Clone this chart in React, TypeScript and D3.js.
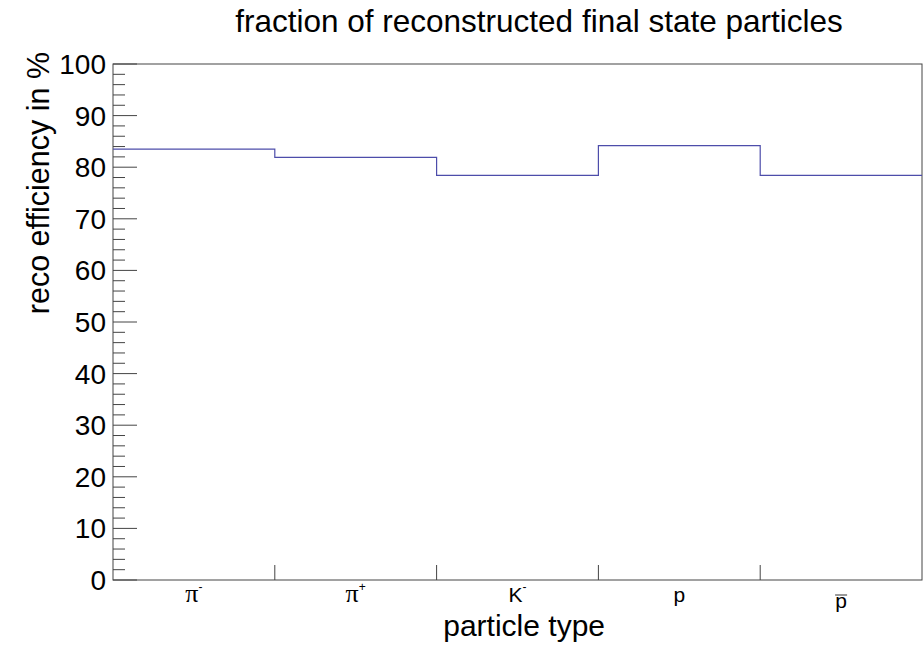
import React from "react";
import * as d3 from "d3";

const labelBase = ["π", "π", "K", "p", "p"];
const labelSup = ["-", "+", "-", "", ""];
const labelBar = [false, false, false, false, true];
const efficiency = [83.5, 81.9, 78.4, 84.2, 78.4];
const yMajorTicks = [0, 10, 20, 30, 40, 50, 60, 70, 80, 90, 100];
const yMinorTicks = d3.range(0, 101, 2).filter((v) => v % 10 !== 0);
const binEdges = [1, 2, 3, 4];

const W = 924;
const H = 645;
const FONT = "'Liberation Sans', Arial, Helvetica, sans-serif";

export default function App() {
  const x = d3.scaleLinear().domain([0, efficiency.length]).range([113, 922]);
  const y = d3.scaleLinear().domain([0, 100]).range([580, 64]);

  const pts: [number, number][] = [];
  efficiency.forEach((v, i) => {
    pts.push([i, v]);
    pts.push([i + 1, v]);
  });
  const line = d3
    .line<[number, number]>()
    .x((d) => x(d[0]))
    .y((d) => y(d[1]));

  const [x0, x1] = x.range();
  const [yb, yt] = y.range();

  return (
    <svg
      width={W}
      height={H}
      style={{ position: "absolute", left: 0, top: 0, background: "#fff" }}
      fontFamily={FONT}
    >
      <rect x={0} y={0} width={W} height={H} fill="#fff" />
      <text x={539} y={32} fontSize={31.5} textAnchor="middle" fill="#000">
        fraction of reconstructed final state particles
      </text>
      <rect
        x={x0}
        y={yt}
        width={x1 - x0}
        height={yb - yt}
        fill="none"
        stroke="#444"
        strokeWidth={1}
      />
      {yMajorTicks.map((t) => (
        <g key={"M" + t}>
          <line x1={x0} x2={x0 + 24} y1={y(t)} y2={y(t)} stroke="#444" />
          <text x={106} y={y(t)} dy={10} fontSize={28} textAnchor="end" fill="#000">
            {t}
          </text>
        </g>
      ))}
      {yMinorTicks.map((t) => (
        <line key={"m" + t} x1={x0} x2={x0 + 12} y1={y(t)} y2={y(t)} stroke="#444" />
      ))}
      {binEdges.map((e) => (
        <line key={"x" + e} x1={x(e)} x2={x(e)} y1={yb} y2={yb - 15} stroke="#444" />
      ))}
      {labelBase.map((b, i) => {
        const cx = x(i + 0.5);
        const by = labelBar[i] ? 608 : 602;
        const isPi = b === "π";
        return (
          <g key={"l" + i}>
            <text x={cx} y={by} fontSize={21} textAnchor="middle" fill="#000">
              <tspan
                fontSize={isPi ? 26 : 21}
                fontFamily={isPi ? "'Liberation Serif', serif" : FONT}
              >
                {b}
              </tspan>
              {labelSup[i] ? (
                <tspan fontSize={12} dy={-11}>
                  {labelSup[i]}
                </tspan>
              ) : null}
            </text>
            {labelBar[i] ? (
              <line
                x1={cx - 6}
                x2={cx + 6}
                y1={by - 13}
                y2={by - 13}
                stroke="#555"
                strokeWidth={1.2}
              />
            ) : null}
          </g>
        );
      })}
      <text x={605} y={636} fontSize={30} textAnchor="end" fill="#000">
        particle type
      </text>
      <text
        transform={`translate(49,52) rotate(-90)`}
        fontSize={30.5}
        textAnchor="end"
        fill="#000"
      >
        reco efficiency in %
      </text>
      <path d={line(pts) || ""} fill="none" stroke="#4d4daa" strokeWidth={1.2} />
    </svg>
  );
}
